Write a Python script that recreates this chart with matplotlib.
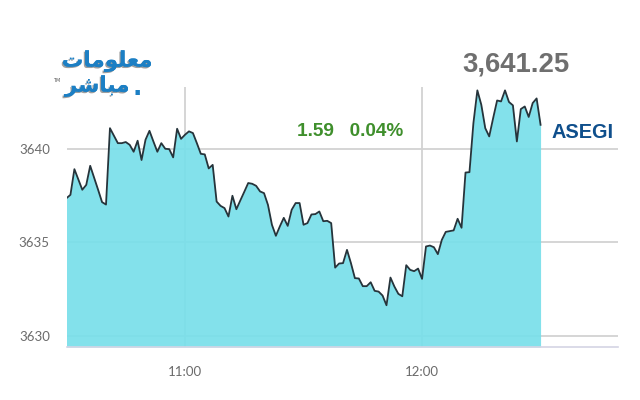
import matplotlib
matplotlib.use("Agg")
import matplotlib.pyplot as plt
import matplotlib.patheffects as pe

# one value per minute, starting 10:30
values = [
    3637.36, 3637.54, 3638.91, 3638.36, 3637.81, 3638.07, 3639.09, 3638.45, 3637.81, 3637.15,
    3637.02, 3641.10, 3640.70, 3640.30, 3640.30, 3640.36, 3640.21, 3639.84, 3640.43, 3639.40,
    3640.48, 3640.96, 3640.39, 3639.84, 3640.30, 3640.00, 3639.98, 3639.54, 3641.07, 3640.53,
    3640.75, 3640.93, 3640.84, 3640.30, 3639.73, 3639.70, 3638.95, 3639.14, 3637.18, 3636.95,
    3636.83, 3636.38, 3637.49, 3636.77, 3637.24, 3637.70, 3638.17, 3638.13, 3638.02, 3637.72,
    3637.63, 3637.00, 3635.94, 3635.35, 3635.85, 3636.31, 3635.88, 3636.74, 3637.10, 3637.10,
    3635.94, 3636.03, 3636.49, 3636.51, 3636.65, 3636.13, 3636.15, 3636.03, 3633.65, 3633.87,
    3633.89, 3634.60, 3633.89, 3633.09, 3633.07, 3632.66, 3632.66, 3632.87, 3632.41, 3632.37,
    3632.16, 3631.64, 3633.12, 3632.64, 3632.25, 3632.12, 3633.78, 3633.53, 3633.46, 3633.60,
    3633.05, 3634.78, 3634.83, 3634.74, 3634.37, 3635.13, 3635.56, 3635.60, 3635.64, 3636.26,
    3635.78, 3638.73, 3638.75, 3641.37, 3643.12, 3642.35, 3641.10, 3640.66, 3641.64, 3642.58,
    3642.53, 3643.12, 3642.50, 3642.32, 3640.39, 3642.12, 3642.26, 3641.70, 3642.44, 3642.69,
    3641.28,
]
minutes = list(range(len(values)))

y_ticks = [3630, 3635, 3640]
x_ticks = [30, 90]
x_labels = ["11:00", "12:00"]

W, H = 640, 400
fig = plt.figure(figsize=(W / 100, H / 100), dpi=100)
ax = fig.add_axes([66.5 / W, (H - 347) / H, (618 - 66.5) / W, (347 - 87) / H])


def px(x, y):
    return x / W, 1 - y / H


ax.set_xlim(0, 139.6)
ax.set_ylim(3629.41, 3643.3)
ax.set_yticks(y_ticks)
ax.set_xticks(x_ticks)
ax.set_xticklabels(x_labels)
ax.tick_params(length=0, labelsize=9.5, labelcolor="#6b6b6b", pad=14)
ax.tick_params(axis="y", pad=12)
for lab in ax.get_xticklabels() + ax.get_yticklabels():
    lab.set_family("Lato")

ax.grid(True, color="#d2d2d2", lw=1.3)
ax.set_axisbelow(True)
for side in ["top", "left", "right"]:
    ax.spines[side].set_visible(False)
ax.spines["bottom"].set_color("#d4d4e4")
ax.spines["bottom"].set_linewidth(1.2)

ax.fill_between(minutes, values, 3629.41, color="#78dfea", alpha=0.92, lw=0, zorder=2)
ax.plot(minutes, values, color="#26343b", lw=1.3, zorder=3)

fig.text(*px(516, 65), "3,641.25", family="Liberation Sans", weight="bold", fontsize=19.8,
         color="#6f6f6f", ha="center", va="center")
fig.text(*px(350, 131), "1.59   0.04%", family="Liberation Sans", weight="bold", fontsize=13.7,
         color="#3f8f2c", ha="center", va="center")
fig.text(*px(582.5, 132), "ASEGI", family="Liberation Sans", weight="bold", fontsize=14.3,
         color="#0f4f8c", ha="center", va="center")

# logo, arabic written in presentation forms in visual order
shadow = [pe.withSimplePatchShadow(offset=(-1, -1), shadow_rgbFace="#777777", alpha=0.7), pe.Normal()]
logo_top = "\ufe95\ufe8e\ufee3\ufeee\ufee0\ufecc\ufee3"
logo_bottom = "\ufeae\ufeb7\ufe8e\ufe92\ufee3"
fig.text(*px(107, 61), logo_top, family="DejaVu Sans", weight="bold", fontsize=15.5,
         color="#1c7fc4", ha="center", va="center", path_effects=shadow)
fig.text(*px(97, 86), logo_bottom, family="DejaVu Sans", weight="bold", fontsize=15.5,
         color="#1c7fc4", ha="center", va="center", path_effects=shadow)
fig.text(*px(137, 95), ".", family="DejaVu Sans", weight="bold", fontsize=18,
         color="#1c7fc4", ha="center", va="baseline")
fig.text(*px(57, 81), "TM", family="DejaVu Sans", fontsize=3.5, color="#555555", ha="center", va="center")

fig.savefig("out.png", dpi=100)
